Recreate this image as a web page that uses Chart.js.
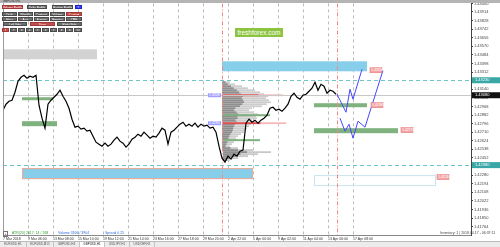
<!DOCTYPE html>
<html>
<head>
<meta charset="utf-8">
<title>GBPUSD,H1</title>
<script src="https://cdn.jsdelivr.net/npm/chart.js@4.4.1/dist/chart.umd.min.js"></script>
<style>
  body { margin: 0; background: #fff; font-family: Arial, "Liberation Sans", sans-serif; }
  #wrap { position: relative; width: 500px; height: 247px; overflow: hidden; }
  #c { position: absolute; left: 0; top: 0; }
  .topbar { position: absolute; left: 0; top: 0; width: 500px; height: 3px; background: #b4b4b4; }
  .sym { position: absolute; left: 3px; top: 0; font-size: 3px; line-height: 3px; color: #333; }
  .btn { position: absolute; height: 4px; font-size: 3px; line-height: 4px; color: #fff; background: #6e6e6e;
         text-align: center; box-sizing: border-box; border: 0.5px solid #4a4a4a; white-space: nowrap; overflow: hidden; }
  .red { background: #c0504d; border-color: #a03a3a; }
  .blue { background: #3a3aff; border-color: #2020c0; }
  .logo { position: absolute; left: 235px; top: 28px; width: 48px; height: 9px; background: #8cc43f;
          color: #fff; font-size: 6.5px; line-height: 9px; text-align: center; }
  .info { position: absolute; top: 231px; font-size: 3.5px; line-height: 4px; white-space: nowrap; }
  .tabs { position: absolute; left: 0; top: 241px; width: 500px; height: 6px; background: #ececec; border-top: 1px solid #bbb; }
  .tab { position: absolute; top: 0; height: 5px; font-size: 3px; line-height: 5px; color: #555; text-align: center;
         border-right: 1px solid #c4c4c4; box-sizing: border-box; }
  .tab.on { background: #fff; color: #222; }
</style>
</head>
<body>
<div id="wrap">
  <canvas id="c" width="500" height="247"></canvas>
  <div class="topbar"></div>
  <div class="sym">GBPUSD,H1</div>

  <div class="btn red" style="left:2px;top:5px;width:21px">Volume Profile</div>
  <div class="btn" style="left:27px;top:5px;width:20px">Delta Profile</div>
  <div class="btn" style="left:52px;top:5px;width:21px">Auction Profile</div>
  <div class="btn blue" style="left:75px;top:5px;width:7px">Σ</div>

  <div class="btn" style="left:2px;top:12px;width:15px">Daily</div>
  <div class="btn" style="left:18px;top:12px;width:15px">Weekly</div>
  <div class="btn" style="left:34px;top:12px;width:15px">Contract</div>
  <div class="btn" style="left:50px;top:12px;width:15px">Volume</div>
  <div class="btn red" style="left:66px;top:12px;width:16px">Custom</div>

  <div class="btn" style="left:2px;top:17px;width:15px">Hour</div>
  <div class="btn" style="left:18px;top:17px;width:15px">Asia</div>
  <div class="btn" style="left:34px;top:17px;width:15px">Europe</div>
  <div class="btn" style="left:50px;top:17px;width:15px">America</div>
  <div class="btn" style="left:66px;top:17px;width:16px">CME</div>

  <div class="btn" style="left:3px;top:22px;width:24px">Left Side</div>
  <div class="btn red" style="left:30px;top:22px;width:25px">Draw</div>
  <div class="btn" style="left:57px;top:22px;width:25px">Right Side</div>

  <div class="btn red" style="left:2px;top:28px;width:7px">1</div>
  <div class="btn" style="left:10px;top:28px;width:7px">2</div>
  <div class="btn" style="left:18px;top:28px;width:7px">3</div>
  <div class="btn" style="left:26px;top:28px;width:7px">4</div>
  <div class="btn" style="left:34px;top:28px;width:7px">5</div>
  <div class="btn" style="left:42px;top:28px;width:7px">6</div>
  <div class="btn" style="left:50px;top:28px;width:7px">7</div>
  <div class="btn" style="left:58px;top:28px;width:7px">8</div>
  <div class="btn" style="left:66px;top:28px;width:7px">9</div>
  <div class="btn" style="left:74px;top:28px;width:8px">10</div>

  <div class="logo">freshforex.com</div>

  <div class="info" style="left:3px;color:#333;border:0.5px solid #777;width:3px;text-align:center">+</div>
  <div class="info" style="left:12px;color:#2e9e2e">ATR(20) 2017: 14 / 268</div>
  <div class="info" style="left:58px;color:#2f6fdc">Volume 3166 / 3904</div>
  <div class="info" style="left:105px;color:#2f6fdc">Spread 0.25</div>
  <div class="info" style="left:440px;color:#444">Inventory: 1 | 2018.04.17 - 06:37:11</div>

  <div class="tabs">
    <div class="tab" style="left:0;width:27px">EURUSD,H1</div>
    <div class="tab" style="left:27px;width:27px">EURUSD,M15</div>
    <div class="tab" style="left:54px;width:26px">GBPUSD,H4</div>
    <div class="tab on" style="left:80px;width:25px">GBPUSD,H1</div>
    <div class="tab" style="left:105px;width:25px">USDJPY,H1</div>
    <div class="tab" style="left:130px;width:25px">USDCHF,H1</div>
  </div>
</div>

<script>
  // H1 bars, one sample every 6 bars
  var priceStep = 6;
  var priceClose = [
    1.4293, 1.4299, 1.4302, 1.4303, 1.4311, 1.4322, 1.4326, 1.4328, 1.4325, 1.4327, 1.4326, 1.4328,
    1.4298, 1.4285, 1.4275, 1.4299, 1.4303, 1.4306, 1.4309, 1.4313, 1.4307, 1.4302, 1.4295, 1.4284,
    1.4276, 1.4277, 1.4274, 1.4275, 1.4272, 1.4273, 1.4267, 1.4261, 1.4259, 1.4257, 1.4260, 1.4257,
    1.4259, 1.4263, 1.4266, 1.4262, 1.4260, 1.4256, 1.4259, 1.4264, 1.4266, 1.4269, 1.4267, 1.4271,
    1.4268, 1.4265, 1.4267, 1.4266, 1.4270, 1.4275, 1.4273, 1.4259, 1.4271, 1.4273, 1.4276, 1.4279,
    1.4281, 1.4277, 1.4279, 1.4277, 1.4280, 1.4276, 1.4279, 1.4277, 1.4278, 1.4275, 1.4276, 1.4271,
    1.4257, 1.4245, 1.4241, 1.4247, 1.4244, 1.4249, 1.4247, 1.4252, 1.4253, 1.4280, 1.4284, 1.4281,
    1.4283, 1.4280, 1.4283, 1.4285, 1.4288, 1.4295, 1.4296, 1.4293, 1.4294, 1.4292, 1.4295, 1.4299,
    1.4307, 1.4310, 1.4306, 1.4304, 1.4308, 1.4309, 1.4312, 1.4315, 1.4321, 1.4313, 1.4319, 1.4317,
    1.4310, 1.4313, 1.4312, 1.4309
  ];

  var forecastUpBars = [668, 686, 694, 700, 718];
  var forecastUpPrices = [1.4309, 1.4291, 1.4314, 1.4304, 1.4334];
  var forecastDownBars = [674, 684, 692, 700, 710, 724, 760];
  var forecastDownPrices = [1.4285, 1.4272, 1.4279, 1.4265, 1.4282, 1.4276, 1.4333];

  // zones: [fromBar, toBar, topPrice, bottomPrice]
  var grayZones = [[0, 188, 1.4354, 1.4344]];
  var blueZones = [[438, 728, 1.4342, 1.4332]];
  var blueEdgedZones = [[38, 500, 1.4235, 1.4224]];
  var outlineZones = [[622, 866, 1.4228, 1.4217]];
  var greenZones = [
    [38, 100, 1.4306, 1.4303], [38, 108, 1.4282, 1.4277],
    [622, 728, 1.4300, 1.4296], [622, 790, 1.4275, 1.4270],
    [438, 534, 1.4289, 1.4287], [438, 514, 1.4264, 1.4262]
  ];

  // volume profile (volume measured in bars of width)
  var profileStart = 438;
  var profilePrices = [
    1.4321, 1.4319, 1.4317, 1.4315, 1.4313, 1.4311, 1.4309, 1.4307, 1.4305, 1.4303, 1.4301, 1.4299,
    1.4297, 1.4295, 1.4293, 1.4291, 1.4289, 1.4287, 1.4285, 1.4283, 1.4281, 1.4279, 1.4277, 1.4275,
    1.4273, 1.4271, 1.4269, 1.4267, 1.4265, 1.4263, 1.4261, 1.4259, 1.4257, 1.4255
  ];
  var profileVolumes = [
    16, 26, 40, 52, 66, 76, 84, 92, 88, 94, 98, 90,
    80, 60, 54, 64, 72, 68, 70, 60, 66, 58, 54, 50,
    48, 44, 38, 32, 28, 30, 24, 20, 16, 12
  ];
  var pocPrices = [1.4308, 1.4280];
  var pocVolumes = [122, 128];
  var profile2Start = 440;
  var profile2Prices = [1.4255, 1.4253, 1.4251, 1.4249, 1.4247, 1.4245, 1.4243];
  var profile2Volumes = [30, 60, 96, 70, 50, 30, 14];

  var sessionBars = [438, 668];
  var levelPrices = [1.4323, 1.4238];
  var bidPrice = 1.4308;
  var targetBars = [734, 736, 796, 868];
  var targetPrices = [1.4333, 1.4298, 1.4273, 1.4226];

  var xTickLabels = ["7 Mar 2018", "9 Mar 06:00", "13 Mar 08:00", "15 Mar 10:00", "19 Mar 12:00",
    "21 Mar 14:00", "23 Mar 16:00", "27 Mar 18:00", "29 Mar 20:00", "2 Apr 22:00", "5 Apr 00:00",
    "9 Apr 02:00", "11 Apr 04:00", "13 Apr 06:00", "17 Apr 08:00"];
  var yTickValues = [1.44000, 1.43914, 1.43828, 1.43742, 1.43656, 1.43570, 1.43484, 1.43398, 1.43312,
    1.43226, 1.43140, 1.43054, 1.42968, 1.42882, 1.42796, 1.42710, 1.42624, 1.42538, 1.42452, 1.42366,
    1.42280, 1.42194, 1.42108, 1.42022, 1.41936, 1.41850, 1.41764];

  function pts(xs, ys) {
    return xs.map(function (v, i) { return { x: v, y: ys[i] }; });
  }

  var overlay = {
    id: 'overlay',
    beforeDatasetsDraw: function (chart) {
      var ctx = chart.ctx, a = chart.chartArea, x = chart.scales.x, y = chart.scales.y;
      ctx.save();
      ctx.beginPath();
      ctx.rect(a.left, a.top, a.right - a.left, a.bottom - a.top);
      ctx.clip();

      function box(z, fill, stroke) {
        var x0 = x.getPixelForValue(z[0]), x1 = x.getPixelForValue(z[1]);
        var y0 = y.getPixelForValue(z[2]), y1 = y.getPixelForValue(z[3]);
        if (fill) { ctx.fillStyle = fill; ctx.fillRect(x0, y0, x1 - x0, y1 - y0); }
        if (stroke) { ctx.strokeStyle = stroke; ctx.lineWidth = 1; ctx.strokeRect(x0 + 0.5, y0 + 0.5, x1 - x0 - 1, y1 - y0 - 1); }
      }
      grayZones.forEach(function (z) { box(z, '#d3d3d3'); });
      blueZones.forEach(function (z) { box(z, '#87ceeb'); });
      blueEdgedZones.forEach(function (z) { box(z, '#87ceeb', '#f0a890'); });
      outlineZones.forEach(function (z) { box(z, null, '#c9e4ee'); });

      // volume profiles
      function row(start, p, v, dark, light, share) {
        var x0 = x.getPixelForValue(start), yc = y.getPixelForValue(p);
        var w = x.getPixelForValue(start + v) - x0;
        ctx.fillStyle = light;
        ctx.fillRect(x0, yc - 0.9, w, 1.8);
        ctx.fillStyle = dark;
        ctx.fillRect(x0, yc - 0.9, w * share, 1.8);
      }
      profilePrices.forEach(function (p, i) { row(profileStart, p, profileVolumes[i], '#8e8e8e', '#cdcdcd', 0.45); });
      profile2Prices.forEach(function (p, i) { row(profile2Start, p, profile2Volumes[i], '#8e8e8e', '#c8c8c8', 0.5); });
      pocPrices.forEach(function (p, i) { row(profileStart, p, pocVolumes[i], '#e05050', '#f6b8b8', 0.6); });

      greenZones.forEach(function (z) { box(z, '#7fb27f'); });

      // levels
      ctx.lineWidth = 1;
      ctx.strokeStyle = '#c8c8c8';
      var by = Math.round(y.getPixelForValue(bidPrice)) + 0.5;
      ctx.beginPath(); ctx.moveTo(a.left, by); ctx.lineTo(a.right, by); ctx.stroke();
      ctx.strokeStyle = '#6cc6c6';
      ctx.setLineDash([4, 3]);
      levelPrices.forEach(function (p) {
        var py = Math.round(y.getPixelForValue(p)) + 0.5;
        ctx.beginPath(); ctx.moveTo(a.left, py); ctx.lineTo(a.right, py); ctx.stroke();
      });
      ctx.strokeStyle = '#f08a8a';
      ctx.setLineDash([4, 2, 1, 2]);
      sessionBars.forEach(function (b) {
        var px = Math.round(x.getPixelForValue(b)) + 0.5;
        ctx.beginPath(); ctx.moveTo(px, a.top); ctx.lineTo(px, a.bottom); ctx.stroke();
      });
      ctx.restore();
    },
    afterDatasetsDraw: function (chart) {
      var ctx = chart.ctx, x = chart.scales.x, y = chart.scales.y;
      ctx.save();
      ctx.font = '3.5px Arial';
      ctx.textBaseline = 'middle';
      targetPrices.forEach(function (p, i) {
        var px = x.getPixelForValue(targetBars[i]), py = y.getPixelForValue(p);
        ctx.fillStyle = '#f4a4a4';
        ctx.fillRect(px, py - 2.5, 12, 5);
        ctx.strokeStyle = '#e07070'; ctx.lineWidth = 0.5;
        ctx.strokeRect(px, py - 2.5, 12, 5);
        ctx.fillStyle = '#fff';
        ctx.fillText(p.toFixed(5), px + 1, py);
      });
      pocPrices.forEach(function (p) {
        var px = x.getPixelForValue(profileStart), py = y.getPixelForValue(p);
        ctx.fillStyle = '#a0a0ff';
        ctx.fillRect(px - 14, py - 2, 13, 4);
        ctx.fillStyle = '#fff';
        ctx.fillText(p.toFixed(4), px - 13, py);
      });
      ctx.restore();
    },
    afterDraw: function (chart) {
      var ctx = chart.ctx, a = chart.chartArea, y = chart.scales.y;
      ctx.save();
      ctx.strokeStyle = '#9a9a9a'; ctx.lineWidth = 1;
      ctx.beginPath(); ctx.moveTo(a.left + 0.5, a.top); ctx.lineTo(a.left + 0.5, a.bottom); ctx.stroke();
      ctx.font = '4px Arial';
      ctx.textBaseline = 'middle';
      function tag(p, bg) {
        var py = y.getPixelForValue(p);
        ctx.fillStyle = bg;
        ctx.fillRect(a.right + 1, py - 3, 28, 6);
        ctx.fillStyle = '#fff';
        ctx.fillText(p.toFixed(5), a.right + 4, py);
      }
      levelPrices.forEach(function (p) { tag(p, '#3aa7a7'); });
      tag(bidPrice, '#111');
      ctx.restore();
    }
  };

  new Chart(document.getElementById('c'), {
    type: 'line',
    data: {
      datasets: [{
        data: pts(priceClose.map(function (_, i) { return i * priceStep; }), priceClose),
        borderColor: '#000', borderWidth: 1.2, pointRadius: 0, tension: 0
      }, {
        data: pts(forecastUpBars, forecastUpPrices),
        borderColor: '#4646ff', borderWidth: 1, pointRadius: 0, tension: 0
      }, {
        data: pts(forecastDownBars, forecastDownPrices),
        borderColor: '#4646ff', borderWidth: 1, pointRadius: 0, tension: 0
      }]
    },
    options: {
      responsive: false,
      animation: false,
      devicePixelRatio: 1,
      layout: { padding: { left: 3, top: 3, right: 0, bottom: 0 } },
      plugins: { legend: { display: false }, tooltip: { enabled: false } },
      scales: {
        x: {
          type: 'linear', min: 0, max: 936,
          afterBuildTicks: function (s) { s.ticks = xTickLabels.map(function (_, i) { return { value: i * 50 }; }); },
          afterFit: function (s) { s.height = 12; },
          ticks: {
            autoSkip: false, maxRotation: 0, align: 'start', padding: 0,
            font: { size: 3.5, family: 'Arial' }, color: '#333',
            callback: function (v, i) { return xTickLabels[i]; }
          },
          grid: { color: '#bcbcbc', tickLength: 2, lineWidth: 1 },
          border: { color: '#888', dash: [3, 3] }
        },
        y: {
          position: 'right', min: 1.4168, max: 1.4400,
          afterBuildTicks: function (s) { s.ticks = yTickValues.map(function (v) { return { value: v }; }); },
          afterFit: function (s) { s.width = 29; },
          ticks: {
            padding: 1, font: { size: 4, family: 'Arial' }, color: '#444',
            callback: function (v) { return v.toFixed(5); }
          },
          grid: { drawOnChartArea: false, tickLength: 2, color: '#444' },
          border: { color: '#444' }
        }
      }
    },
    plugins: [overlay]
  });
</script>
</body>
</html>
